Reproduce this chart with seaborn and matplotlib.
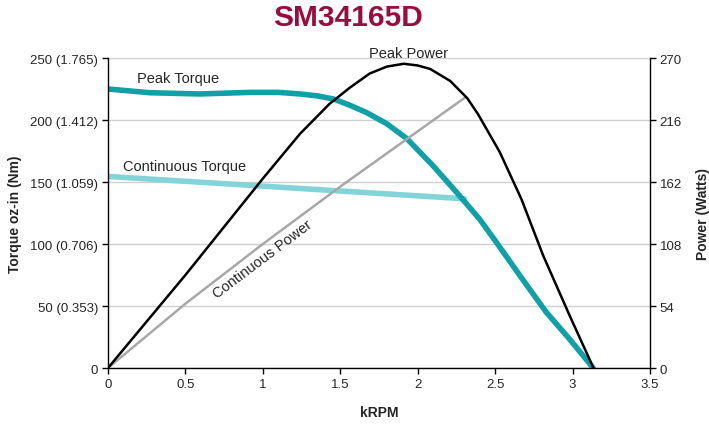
import matplotlib
matplotlib.use("Agg")
import matplotlib.pyplot as plt
import seaborn as sns
import pandas as pd

# data
peak_torque_rpm = [0, 0.27, 0.59, 0.92, 1.1, 1.24, 1.35, 1.455, 1.56, 1.67, 1.80, 1.93, 2.10, 2.27, 2.40, 2.51, 2.66, 2.83, 2.98, 3.133]
peak_torque = [225, 222, 221, 222.3, 222.3, 221, 219.5, 217, 212, 206, 197, 185, 163, 139, 120, 101, 74.5, 45, 23.4, 0]

cont_torque_rpm = [0, 2.3]
cont_torque = [154.5, 136.5]

peak_power_rpm = [0, 0.5, 0.75, 1.0, 1.24, 1.43, 1.56, 1.69, 1.80, 1.91, 2.0, 2.08, 2.21, 2.32, 2.39,
                  2.53, 2.67, 2.81, 2.98, 3.135]
peak_power = [0, 81, 123, 165, 204, 230, 244, 256.5, 262.5, 265, 263.5, 260.5, 250, 235, 221,
              188, 147, 98, 46, 0]

cont_power_rpm = [0, 0.5, 1.0, 1.5, 2.305]
cont_power = [0, 56, 108, 158, 235.5]

torque_ticks = [0, 50, 100, 150, 200, 250]
torque_labels = ["0", "50 (0.353)", "100 (0.706)", "150 (1.059)", "200 (1.412)", "250 (1.765)"]
power_ticks = [0, 54, 108, 162, 216, 270]
rpm_ticks = [0, 0.5, 1, 1.5, 2, 2.5, 3, 3.5]

sns.set_style("white")
plt.rcParams["font.family"] = ["Liberation Sans", "DejaVu Sans"]

fig = plt.figure(figsize=(7.09, 4.27), dpi=100)
ax = fig.add_axes([0.1523, 0.1358, 0.7645, 0.726])
ax2 = ax.twinx()

pt = pd.DataFrame({"rpm": peak_torque_rpm, "val": peak_torque})
ct = pd.DataFrame({"rpm": cont_torque_rpm, "val": cont_torque})
pp = pd.DataFrame({"rpm": peak_power_rpm, "val": peak_power})
cp = pd.DataFrame({"rpm": cont_power_rpm, "val": cont_power})

sns.lineplot(data=ct, x="rpm", y="val", ax=ax, color="#82D4D9", linewidth=4, sort=False)
sns.lineplot(data=pt, x="rpm", y="val", ax=ax, color="#0FA0A8", linewidth=4, sort=False)
sns.lineplot(data=cp, x="rpm", y="val", ax=ax2, color="#A8A8A8", linewidth=1.8, sort=False)
sns.lineplot(data=pp, x="rpm", y="val", ax=ax2, color="black", linewidth=1.8, sort=False)

ax.set_xlim(0, 3.5)
ax.set_ylim(0, 250)
ax2.set_ylim(0, 270)
ax.set_xticks(rpm_ticks)
ax.set_xticklabels([f"{t:g}" for t in rpm_ticks])
ax.set_yticks(torque_ticks)
ax.set_yticklabels(torque_labels)
ax2.set_yticks(power_ticks)
ax2.set_yticklabels([str(t) for t in power_ticks])

ax.yaxis.grid(True, color="#D0D0D0", linewidth=1)
ax.set_axisbelow(True)
for a in (ax, ax2):
    a.spines["top"].set_visible(False)
    for s in ("left", "right", "bottom"):
        a.spines[s].set_color("black")
        a.spines[s].set_linewidth(1)
ax.spines["right"].set_visible(False)
ax2.spines["left"].set_visible(False)
ax2.spines["bottom"].set_visible(False)

ax.tick_params(axis="both", direction="out", length=4, width=1, color="black", labelsize=9.5, pad=3,
               left=True, bottom=True)
ax2.tick_params(axis="y", direction="out", length=4, width=1, color="black", labelsize=9.5, pad=3, right=True)

ax.set_xlabel("kRPM", fontsize=10, fontweight="bold", labelpad=11)
ax.set_ylabel("Torque oz-in (Nm)", fontsize=10, fontweight="bold", labelpad=6)
ax2.set_ylabel("Power (Watts)", fontsize=10, fontweight="bold")
ax2.yaxis.set_label_coords(1.097, 0.5)
ax2.yaxis.label.set_verticalalignment("center")

ax.text(0.19, 234, "Peak Torque", fontsize=10.5, va="center", ha="left")
ax.text(0.1, 163, "Continuous Torque", fontsize=10.5, va="center", ha="left")
ax.text(1.94, 254, "Peak Power", fontsize=10.5, va="center", ha="center", clip_on=False)
ax.text(1.0, 88, "Continuous Power", fontsize=10.5, va="center", ha="center", rotation=37)

fig.suptitle("SM34165D", x=0.491, y=0.99, fontsize=21.5, fontweight="bold", color="#9B0B3C")

fig.savefig("out.png", dpi=100)
